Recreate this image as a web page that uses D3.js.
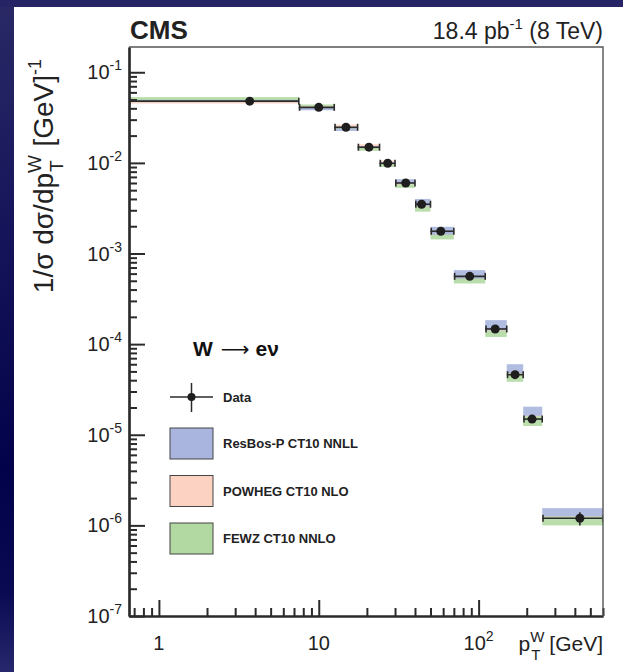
<!DOCTYPE html>
<html>
<head>
<meta charset="utf-8">
<script src="https://cdn.jsdelivr.net/npm/d3@7"></script>
<style>
  html, body { margin: 0; padding: 0; background: #fff; }
  svg { display: block; font-family: "Liberation Sans", Arial, sans-serif; }
</style>
</head>
<body>
<div id="chart"></div>
<script>
// bin edges and data (W -> e nu, normalised pT spectrum)
const xEdges = [0, 7.5, 12.5, 17.5, 24, 30, 40, 50, 70, 110, 150, 190, 250, 600];
const xCenter = [3.7, 10, 14.8, 20.6, 27, 35, 44, 58, 88, 127, 169, 216, 430];
const dataY = [0.048, 0.041, 0.0247, 0.0149, 0.0099, 0.0060, 0.0035, 0.00176, 5.6e-4, 1.47e-4, 4.6e-5, 1.49e-5, 1.2e-6];
const dataErr = [0.0006, 0.0005, 0.0003, 0.0002, 0.00015, 0.0001, 0.00006, 0.00003, 1.2e-5, 4e-6, 1.5e-6, 6e-7, 2e-7];

// theory bands [lo, hi]
const resbosLo = [0.0468, 0.0381, 0.0225, 0.0142, 0.0094, 0.0059, 0.0033, 0.0016, 5.2e-4, 1.42e-4, 4.8e-5, 1.62e-5, 1.25e-6];
const resbosHi = [0.0505, 0.0408, 0.0245, 0.0152, 0.0101, 0.0066, 0.0040, 0.00197, 6.55e-4, 1.84e-4, 6.0e-5, 2.04e-5, 1.55e-6];
const powhegLo = [0.0452, 0.0405, 0.0250, 0.0150, 0.0098, 0.0057, 0.0032, 0.00158, 5.1e-4, 1.40e-4, 4.6e-5, 1.55e-5, 1.2e-6];
const powhegHi = [0.0475, 0.0425, 0.0265, 0.0160, 0.0106, 0.0061, 0.0035, 0.00170, 5.6e-4, 1.50e-4, 5.0e-5, 1.65e-5, 1.3e-6];
const fewzLo = [0.0495, 0.0422, 0.0240, 0.0136, 0.0090, 0.0053, 0.0029, 0.00143, 4.67e-4, 1.20e-4, 3.84e-5, 1.25e-5, 1.0e-6];
const fewzHi = [0.0532, 0.0441, 0.0250, 0.0146, 0.0097, 0.0058, 0.0033, 0.00162, 5.3e-4, 1.40e-4, 4.75e-5, 1.60e-5, 1.25e-6];

const models = [
  { name: "POWHEG CT10 NLO", lo: powhegLo, hi: powhegHi, color: "#fcd2c2" },
  { name: "ResBos-P CT10 NNLL", lo: resbosLo, hi: resbosHi, color: "#a9b5de" },
  { name: "FEWZ CT10 NNLO", lo: fewzLo, hi: fewzHi, color: "#b3d9a3" },
];
const legendOrder = ["ResBos-P CT10 NNLL", "POWHEG CT10 NLO", "FEWZ CT10 NNLO"];

const W = 623, H = 672;
const m = { l: 129, r: 20, t: 47, b: 56 };
const x = d3.scaleLog().domain([0.65, 600]).range([m.l, W - m.r]);
const y = d3.scaleLog().domain([1e-7, 0.19]).range([H - m.b, m.t]);
const ink = "#2b2b2b";

const svg = d3.select("#chart").append("svg").attr("width", W).attr("height", H);

// slide background edges
const defs = svg.append("defs");
const grad = defs.append("linearGradient").attr("id", "edge").attr("x1", 0).attr("x2", 0).attr("y1", 0).attr("y2", 1);
[[0, "#2a2966"], [0.35, "#15145a"], [0.7, "#02024a"], [0.88, "#0a0a52"], [1, "#27276e"]]
  .forEach(([o, c]) => grad.append("stop").attr("offset", o).attr("stop-color", c));
svg.append("rect").attr("width", W).attr("height", H).attr("fill", "#fff");
svg.append("rect").attr("x", 0).attr("y", 0).attr("width", 14).attr("height", H).attr("fill", "url(#edge)");
svg.append("rect").attr("x", 0).attr("y", 0).attr("width", W).attr("height", 7).attr("fill", "#262464");

defs.append("clipPath").attr("id", "plot").append("rect")
  .attr("x", m.l).attr("y", m.t).attr("width", W - m.r - m.l).attr("height", H - m.b - m.t);
const plot = svg.append("g").attr("clip-path", "url(#plot)");
const lo = (i) => x(Math.max(xEdges[i], 0.65));
const hi = (i) => x(xEdges[i + 1]);

// theory bands
models.forEach((md) => {
  plot.append("g").selectAll("rect").data(xCenter).join("rect")
    .attr("x", (d, i) => lo(i)).attr("width", (d, i) => hi(i) - lo(i))
    .attr("y", (d, i) => y(md.hi[i])).attr("height", (d, i) => y(md.lo[i]) - y(md.hi[i]))
    .attr("fill", md.color).attr("fill-opacity", 0.9);
});

// data: x error bars with caps, y errors, markers
const pts = plot.append("g").attr("stroke", ink).attr("stroke-width", 1.6);
pts.selectAll("line.xe").data(dataY).join("line").attr("class", "xe")
  .attr("x1", (d, i) => lo(i)).attr("x2", (d, i) => hi(i)).attr("y1", (d) => y(d)).attr("y2", (d) => y(d));
pts.selectAll("line.c1").data(dataY).join("line").attr("class", "c1")
  .attr("x1", (d, i) => hi(i)).attr("x2", (d, i) => hi(i)).attr("y1", (d) => y(d) - 3.5).attr("y2", (d) => y(d) + 3.5);
pts.selectAll("line.c0").data(dataY).join("line").attr("class", "c0")
  .attr("x1", (d, i) => lo(i) + 0.8).attr("x2", (d, i) => lo(i) + 0.8).attr("y1", (d) => y(d) - 3.5).attr("y2", (d) => y(d) + 3.5);
pts.selectAll("line.ye").data(dataY).join("line").attr("class", "ye")
  .attr("x1", (d, i) => x(xCenter[i])).attr("x2", (d, i) => x(xCenter[i]))
  .attr("y1", (d, i) => y(d + dataErr[i])).attr("y2", (d, i) => y(d - dataErr[i]));
plot.append("g").selectAll("circle").data(dataY).join("circle")
  .attr("cx", (d, i) => x(xCenter[i])).attr("cy", (d) => y(d)).attr("r", 4.5).attr("fill", "#1e1e1e");

// axes (ticks drawn inside the frame)
const decadesX = [0.7, 0.8, 0.9, 2, 3, 4, 5, 6, 7, 8, 9, 20, 30, 40, 50, 60, 70, 80, 90, 200, 300, 400, 500, 600];
const majorX = [1, 10, 100];
const majorY = [1e-7, 1e-6, 1e-5, 1e-4, 1e-3, 1e-2, 1e-1];
const minorY = [];
majorY.forEach((p) => [2, 3, 4, 5, 6, 7, 8, 9].forEach((k) => { if (p * k < 0.19) minorY.push(p * k); }));

const ax = svg.append("g").attr("transform", `translate(0,${H - m.b})`);
ax.call(d3.axisBottom(x).tickValues(majorX).tickSize(-16).tickFormat("").tickSizeOuter(0));
ax.append("g").call(d3.axisBottom(x).tickValues(decadesX).tickSize(-8).tickFormat("").tickSizeOuter(0));
const ay = svg.append("g").attr("transform", `translate(${m.l},0)`);
ay.call(d3.axisLeft(y).tickValues(majorY).tickSize(-16).tickFormat("").tickSizeOuter(0));
ay.append("g").call(d3.axisLeft(y).tickValues(minorY).tickSize(-8).tickFormat("").tickSizeOuter(0));
svg.selectAll(".domain").attr("stroke", ink).attr("stroke-width", 2.2);
svg.selectAll(".tick line").attr("stroke", ink).attr("stroke-width", 2);

// top/right frame
svg.append("path").attr("d", `M${m.l},${m.t}H${W - m.r}V${H - m.b}`)
  .attr("fill", "none").attr("stroke", "#555").attr("stroke-width", 1.4);

// tick labels
const lab = svg.append("g").attr("fill", "#222").attr("font-size", 20);
const xLabels = [["1", null], ["10", null], ["10", "2"]];
majorX.forEach((v, i) => {
  const t = lab.append("text").attr("x", x(v)).attr("y", H - m.b + 34).attr("text-anchor", "middle");
  t.append("tspan").text(xLabels[i][0]);
  if (xLabels[i][1]) t.append("tspan").attr("dy", -9).attr("font-size", 14).text(xLabels[i][1]);
});
const yExp = ["-7", "-6", "-5", "-4", "-3", "-2", "-1"];
majorY.forEach((v, i) => {
  const t = lab.append("text").attr("x", m.l - 7).attr("y", y(v) + 7).attr("text-anchor", "end");
  t.append("tspan").text("10");
  t.append("tspan").attr("dy", -9).attr("font-size", 14).text(yExp[i]);
});

// axis titles
const xt = svg.append("text").attr("x", W - m.r).attr("y", H - m.b + 35).attr("text-anchor", "end")
  .attr("font-size", 21).attr("fill", "#222");
xt.append("tspan").text("p");
xt.append("tspan").attr("dy", -9).attr("font-size", 15).text("W");
xt.append("tspan").attr("dx", -13).attr("dy", 18).attr("font-size", 15).text("T");
xt.append("tspan").attr("dx", 3).attr("dy", -9).text(" [GeV]");

const yt = svg.append("text").attr("transform", `translate(53,${m.t + 12}) rotate(-90)`)
  .attr("text-anchor", "end").attr("font-size", 28).attr("fill", "#222");
yt.append("tspan").text("1/σ dσ/dp");
yt.append("tspan").attr("dy", -12).attr("font-size", 19).text("W");
yt.append("tspan").attr("dx", -17).attr("dy", 22).attr("font-size", 19).text("T");
yt.append("tspan").attr("dx", 6).attr("dy", -10).text(" [GeV]");
yt.append("tspan").attr("dy", -12).attr("font-size", 18).text("-1");

// header
svg.append("text").attr("x", m.l + 1).attr("y", 39).attr("font-size", 26).attr("font-weight", 700)
  .attr("fill", "#222").text("CMS");
const lumi = svg.append("text").attr("x", W - m.r).attr("y", 39).attr("text-anchor", "end")
  .attr("font-size", 23).attr("fill", "#222");
lumi.append("tspan").text("18.4 pb");
lumi.append("tspan").attr("dy", -10).attr("font-size", 15).text("-1");
lumi.append("tspan").attr("dy", 10).text(" (8 TeV)");

// process label
const proc = svg.append("text").attr("x", 193).attr("y", 356).attr("font-size", 21).attr("fill", "#111");
proc.append("tspan").attr("font-weight", 700).text("W");
proc.append("tspan").attr("dx", 8).attr("font-family", "DejaVu Sans").attr("font-size", 20).text("⟶");
proc.append("tspan").attr("dx", 6).attr("font-weight", 700).text("eν");

// legend
const lg = svg.append("g").attr("font-size", 13).attr("font-weight", 700).attr("fill", "#222");
lg.append("line").attr("x1", 170).attr("x2", 213).attr("y1", 397).attr("y2", 397).attr("stroke", ink).attr("stroke-width", 1.5);
lg.append("line").attr("x1", 191.5).attr("x2", 191.5).attr("y1", 383).attr("y2", 412).attr("stroke", ink).attr("stroke-width", 1.5);
lg.append("circle").attr("cx", 191.5).attr("cy", 397).attr("r", 4).attr("fill", "#1e1e1e");
lg.append("text").attr("x", 223).attr("y", 402).text("Data");
legendOrder.forEach((name, i) => {
  const md = models.find((d) => d.name === name);
  const yy = 428 + i * 47.5;
  lg.append("rect").attr("x", 170).attr("y", yy).attr("width", 43).attr("height", 31)
    .attr("fill", md.color).attr("stroke", "#444").attr("stroke-width", 1);
  lg.append("text").attr("x", 223).attr("y", yy + 20).text(name);
});
</script>
</body>
</html>
